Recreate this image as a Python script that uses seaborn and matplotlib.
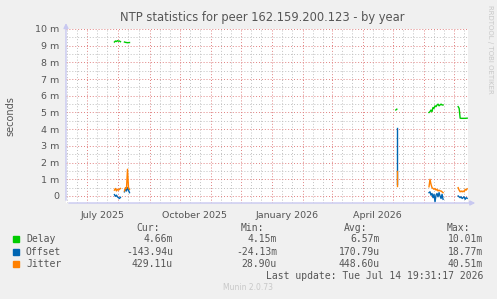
import matplotlib
matplotlib.use("Agg")
import matplotlib.pyplot as plt
import matplotlib.dates as mdates
import matplotlib.ticker as mticker
import pandas as pd
import seaborn as sns

# values in milliseconds (seconds * 1e3), one sample per day, seg = contiguous run
delay_dates = ["2025-07-28", "2025-07-29", "2025-07-30", "2025-07-31", "2025-08-01", "2025-08-02", "2025-08-03",
               "2025-08-07", "2025-08-08", "2025-08-10", "2025-08-12",
               "2026-05-04", "2026-05-05",
               "2026-06-06", "2026-06-07", "2026-06-08", "2026-06-09", "2026-06-10", "2026-06-11", "2026-06-12",
               "2026-06-13", "2026-06-14", "2026-06-15", "2026-06-16", "2026-06-17", "2026-06-18", "2026-06-19",
               "2026-06-20",
               "2026-07-05", "2026-07-06", "2026-07-07", "2026-07-08", "2026-07-10", "2026-07-12", "2026-07-14"]
delay_vals = [9.22, 9.28, 9.25, 9.30, 9.27, 9.28, 9.24,
              9.22, 9.20, 9.18, 9.19,
              5.15, 5.20,
              5.00, 5.05, 5.15, 5.05, 5.30, 5.25, 5.40, 5.35, 5.45, 5.50, 5.40, 5.45, 5.50, 5.45, 5.45,
              5.35, 5.25, 4.66, 4.65, 4.65, 4.65, 4.66]
delay_seg = [0] * 7 + [1] * 4 + [2] * 2 + [3] * 15 + [4] * 7

offset_dates = ["2025-07-28", "2025-07-29", "2025-07-30", "2025-07-31", "2025-08-01", "2025-08-02", "2025-08-03",
                "2025-08-07", "2025-08-08", "2025-08-09", "2025-08-10", "2025-08-11", "2025-08-12",
                "2026-05-05", "2026-05-05",
                "2026-06-06", "2026-06-07", "2026-06-08", "2026-06-09", "2026-06-10", "2026-06-11", "2026-06-12",
                "2026-06-13", "2026-06-14", "2026-06-15", "2026-06-16", "2026-06-17", "2026-06-18", "2026-06-19",
                "2026-06-20",
                "2026-07-05", "2026-07-06", "2026-07-07", "2026-07-08", "2026-07-09", "2026-07-10", "2026-07-11",
                "2026-07-12", "2026-07-13", "2026-07-14"]
offset_vals = [0.08, -0.02, 0.05, -0.05, -0.10, -0.15, -0.08,
               0.25, 0.45, 0.30, 0.50, 0.35, 0.20,
               4.10, 0.70,
               0.20, 0.25, 0.05, 0.15, -0.10, 0.10, -0.35, 0.05, 0.15, -0.05, 0.20, 0.00, -0.15, 0.10, -0.20,
               0.00, -0.05, -0.10, -0.05, -0.15, -0.10, -0.05, -0.20, -0.10, -0.14]
offset_seg = [0] * 7 + [1] * 6 + [2] * 2 + [3] * 15 + [4] * 10

jitter_dates = offset_dates
jitter_vals = [0.35, 0.45, 0.30, 0.40, 0.35, 0.40, 0.45,
               0.30, 0.50, 0.45, 1.60, 0.50, 0.40,
               1.50, 0.60,
               0.55, 1.00, 0.70, 0.50, 0.45, 0.40, 0.45, 0.35, 0.40, 0.30, 0.35, 0.30, 0.30, 0.25, 0.20,
               0.50, 0.35, 0.25, 0.30, 0.25, 0.30, 0.25, 0.40, 0.35, 0.43]
jitter_seg = offset_seg

series_names = ["Delay", "Offset", "Jitter"]
series_colors = ["#00CC00", "#0066B3", "#FF8000"]
cur_vals = ["4.66m", "-143.94u", "429.11u"]
min_vals = ["4.15m", "-24.13m", "28.90u"]
avg_vals = ["6.57m", "170.79u", "448.60u"]
max_vals = ["10.01m", "18.77m", "40.51m"]

month_labels = ["July 2025", "October 2025", "January 2026", "April 2026"]
month_label_dates = ["2025-07-16", "2025-10-16", "2026-01-16", "2026-04-16"]
y_ticks = list(range(0, 11))
x_start, x_end = "2025-06-09 19:31", "2026-07-14 19:31"

BG = "#F0F0F0"
TXT = "#555555"
AXC = "#C8C8F0"

fig = plt.figure(figsize=(4.97, 2.99), dpi=100)
fig.patch.set_facecolor(BG)
ax = fig.add_axes([66 / 497, 96 / 299, 402 / 497, 174 / 299])
ax.set_facecolor("white")

frames = [
    pd.DataFrame({"date": pd.to_datetime(delay_dates), "val": delay_vals, "seg": delay_seg}),
    pd.DataFrame({"date": pd.to_datetime(offset_dates), "val": offset_vals, "seg": offset_seg}),
    pd.DataFrame({"date": pd.to_datetime(jitter_dates), "val": jitter_vals, "seg": jitter_seg}),
]
for df, col in zip(frames, series_colors):
    sns.lineplot(data=df, x="date", y="val", units="seg", estimator=None, sort=False,
                 color=col, lw=1, ax=ax, legend=False, zorder=3)

ax.set_xlim(pd.Timestamp(x_start), pd.Timestamp(x_end))
ax.set_ylim(-0.42, 10)

# grid: red majors, grey minors, dotted like rrdtool
ax.xaxis.set_major_locator(mdates.MonthLocator())
ax.xaxis.set_minor_locator(mdates.DayLocator(bymonthday=[11, 21]))
ax.xaxis.set_major_formatter(mticker.NullFormatter())
ax.yaxis.set_major_locator(mticker.FixedLocator(y_ticks))
ax.yaxis.set_minor_locator(mticker.MultipleLocator(0.5))
ax.yaxis.set_major_formatter(mticker.FuncFormatter(lambda v, p: "0" if v == 0 else f"{v:.0f} m"))
ax.grid(which="major", color="#E08080", ls=(0, (1, 2)), lw=0.7, zorder=1)
ax.grid(which="minor", color="#C0C0C0", ls=(0, (1, 2)), lw=0.7, zorder=1)
ax.tick_params(which="both", length=0)
ax.tick_params(axis="y", labelsize=6.8, labelcolor=TXT, pad=5)
for s in ax.spines.values():
    s.set_visible(False)
ax.set_xlabel("")
ax.set_ylabel("seconds", fontsize=7, color=TXT, labelpad=14)

for lab, d in zip(month_labels, month_label_dates):
    ax.text(pd.Timestamp(d), -0.07, lab, transform=ax.get_xaxis_transform(),
            ha="center", va="center", fontsize=6.8, color=TXT)

# axis lines with arrows
ax.annotate("", xy=(0, 1.05), xytext=(0, 0), xycoords="axes fraction",
            arrowprops=dict(arrowstyle="-|>", color=AXC, lw=1, mutation_scale=7))
ax.annotate("", xy=(1.025, 0), xytext=(0, 0), xycoords="axes fraction",
            arrowprops=dict(arrowstyle="-|>", color=AXC, lw=1, mutation_scale=7))

fig.text(262 / 497, 1 - 18 / 299, "NTP statistics for peer 162.159.200.123 - by year",
         ha="center", va="center", fontsize=8.3, color=TXT)
fig.text(490 / 497, 1 - 5 / 299, "RRDTOOL / TOBI OETIKER", rotation=270,
         ha="center", va="top", fontsize=5, color="#C8C8C8")

mono = "DejaVu Sans Mono"
fs = 7
row_y = [239, 252, 264]
col_right = [173, 277, 380, 483]
for x, h in zip(col_right, ["Cur:", "Min:", "Avg:", "Max:"]):
    fig.text((x - 13) / 497, 1 - 228 / 299, h, ha="right", va="center", family=mono, fontsize=fs, color=TXT)
for i, name in enumerate(series_names):
    y = 1 - row_y[i] / 299
    fig.patches.append(plt.Rectangle((13 / 497, y - 3 / 299), 6 / 497, 6 / 299,
                                     transform=fig.transFigure, color=series_colors[i]))
    fig.text(26 / 497, y, name, ha="left", va="center", family=mono, fontsize=fs, color=TXT)
    for x, v in zip(col_right, [cur_vals[i], min_vals[i], avg_vals[i], max_vals[i]]):
        fig.text(x / 497, y, v, ha="right", va="center", family=mono, fontsize=fs, color=TXT)
fig.text(483 / 497, 1 - 276 / 299, "Last update: Tue Jul 14 19:31:17 2026",
         ha="right", va="center", family=mono, fontsize=fs, color=TXT)
fig.text(248 / 497, 1 - 288 / 299, "Munin 2.0.73", ha="center", va="center",
         fontsize=5.5, color="#C8C8C8")

fig.savefig("out.png", dpi=100, facecolor=BG)
